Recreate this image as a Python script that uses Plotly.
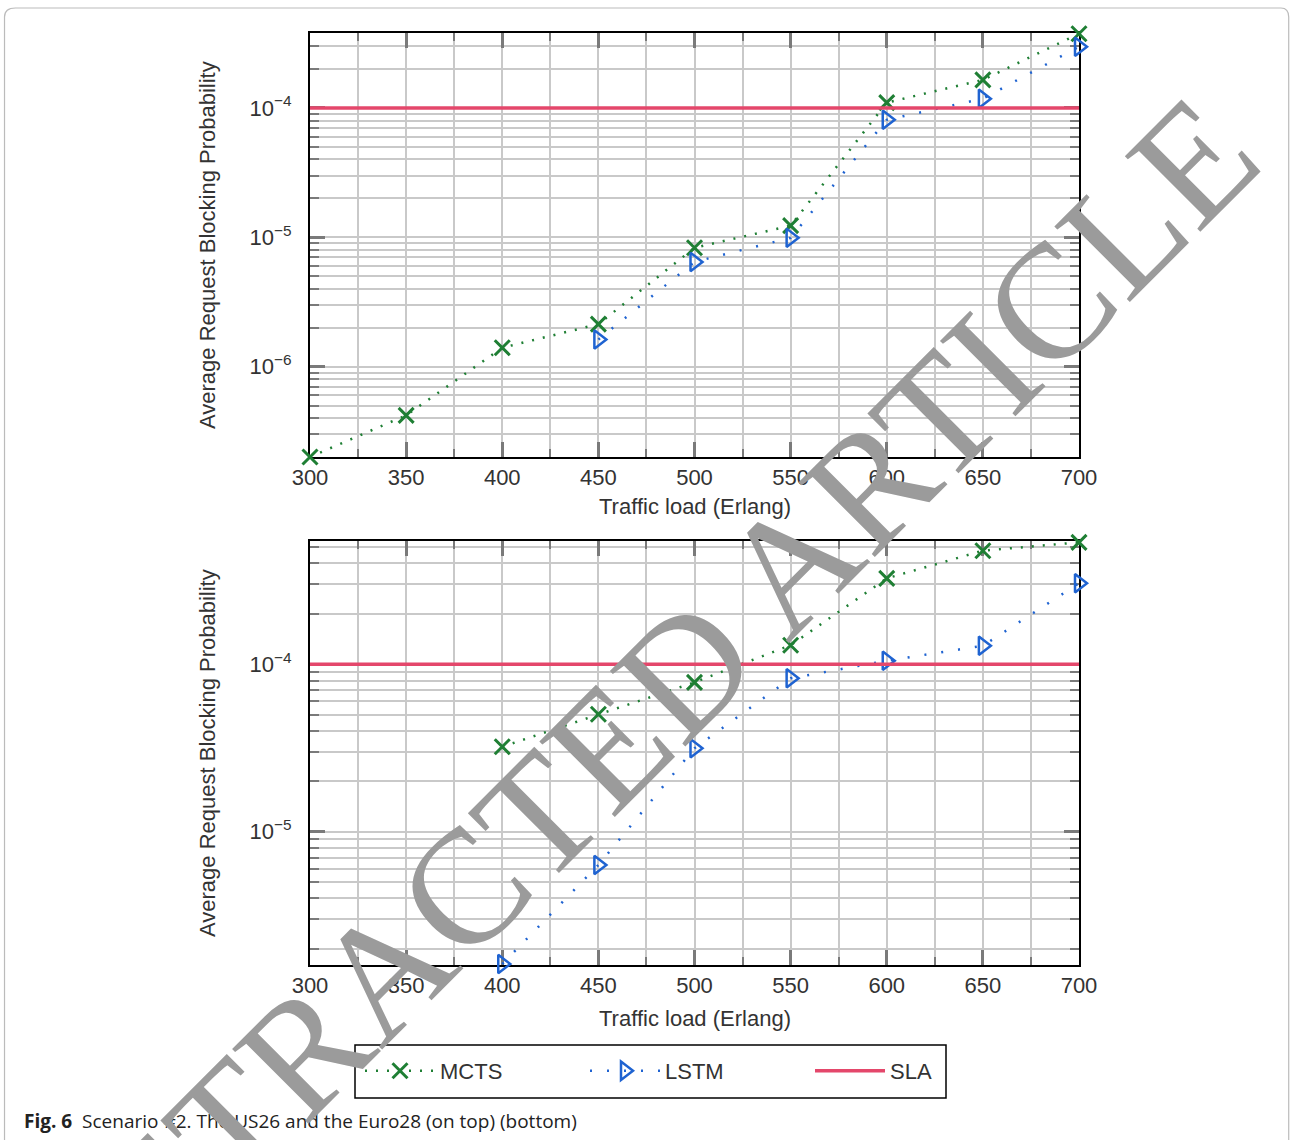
import numpy as np
import plotly.graph_objects as go

# ---- data ----
top_mcts_x = [300, 350, 400, 450, 500, 550, 600, 650, 700]
top_mcts_y = [2.0e-7, 4.2e-7, 1.4e-6, 2.13e-6, 8.3e-6, 1.23e-5, 1.1e-4, 1.65e-4, 3.75e-4]
top_lstm_x = [450, 500, 550, 600, 650, 700]
top_lstm_y = [1.62e-6, 6.45e-6, 9.9e-6, 8.1e-5, 1.18e-4, 2.98e-4]

bot_mcts_x = [400, 450, 500, 550, 600, 650, 700]
bot_mcts_y = [3.22e-5, 5.03e-5, 7.8e-5, 1.3e-4, 3.26e-4, 4.77e-4, 5.35e-4]
bot_lstm_x = [400, 450, 500, 550, 600, 650, 700]
bot_lstm_y = [1.62e-6, 6.33e-6, 3.15e-5, 8.25e-5, 1.05e-4, 1.29e-4, 3.05e-4]

sla_x = [300, 700]
sla_y = [1e-4, 1e-4]

x_ticks = [300, 350, 400, 450, 500, 550, 600, 650, 700]
x_minor = [325, 375, 425, 475, 525, 575, 625, 675]
top_decades = [-6, -5, -4]
bot_decades = [-5, -4]

W, H = 1290, 1140
GREEN = "#1f7f34"
BLUE = "#1f63d1"
RED = "#e4476b"
GRID = "#c9c9c9"
TICKC = "#7a7a7a"
TXT = "#333333"
FONT = "Liberation Sans, Arial, sans-serif"

fig = go.Figure()

x_dom = [310 / W, 1079 / W]
top_dom = [1 - 457 / H, 1 - 33 / H]
bot_dom = [1 - 965 / H, 1 - 541 / H]


def add_panel(xa, ya, mx, my, lx, ly, show):
    fig.add_trace(go.Scatter(
        x=mx, y=my, mode="lines+markers", name="MCTS",
        line=dict(color=GREEN, width=2.5, dash="2px,9px"),
        marker=dict(symbol="x-thin", size=15, color=GREEN,
                    line=dict(width=3, color=GREEN)),
        xaxis=xa, yaxis=ya, showlegend=show, legendrank=1, cliponaxis=False))
    fig.add_trace(go.Scatter(
        x=lx, y=ly, mode="lines+markers", name="LSTM",
        line=dict(color=BLUE, width=2.5, dash="2px,15px"),
        marker=dict(symbol="triangle-right-open", size=16, color=BLUE,
                    line=dict(width=2.5, color=BLUE)),
        xaxis=xa, yaxis=ya, showlegend=show, legendrank=2, cliponaxis=False))
    fig.add_trace(go.Scatter(
        x=sla_x, y=sla_y, mode="lines", name="SLA",
        line=dict(color=RED, width=3.5), xaxis=xa, yaxis=ya,
        showlegend=show, legendrank=3))


add_panel("x", "y", top_mcts_x, top_mcts_y, top_lstm_x, top_lstm_y, True)
add_panel("x2", "y2", bot_mcts_x, bot_mcts_y, bot_lstm_x, bot_lstm_y, False)


def xaxis_cfg(anchor):
    return dict(
        domain=x_dom, anchor=anchor, range=[300, 700],
        tickvals=x_ticks, ticktext=[str(v) for v in x_ticks],
        ticks="inside", ticklen=15, tickwidth=3, tickcolor=TICKC,
        showgrid=True, gridcolor=GRID, gridwidth=1.5,
        showline=True, linecolor="black", linewidth=2, mirror="allticks",
        tickfont=dict(family=FONT, size=22, color=TXT),
        minor=dict(tickvals=x_minor, ticks="inside",
                   ticklen=8, tickwidth=2, tickcolor=TICKC,
                   showgrid=True, gridcolor=GRID, gridwidth=1.5),
        zeroline=False, automargin=False, layer="below traces",
    )


def yaxis_cfg(anchor, dom, lo, hi, decades):
    minors = []
    for d in range(int(np.floor(np.log10(lo))), int(np.ceil(np.log10(hi))) + 1):
        for m in range(2, 10):
            v = m * 10.0 ** d
            if lo <= v <= hi:
                minors.append(v)
    return dict(
        domain=dom, anchor=anchor, type="log",
        range=[np.log10(lo), np.log10(hi)],
        tickvals=[10.0 ** d for d in decades],
        ticktext=["10<sup style='font-size:19px'>\u2212%d</sup>" % (-d) for d in decades],
        ticks="inside", ticklen=15, tickwidth=3, tickcolor=TICKC,
        showgrid=True, gridcolor=GRID, gridwidth=1.5,
        showline=True, linecolor="black", linewidth=2, mirror="allticks",
        tickfont=dict(family=FONT, size=22, color=TXT),
        ticklabelstandoff=12,
        minor=dict(tickvals=minors, ticks="inside", ticklen=9, tickwidth=1.5,
                   tickcolor=TICKC, showgrid=True, gridcolor=GRID, gridwidth=1.5),
        zeroline=False, automargin=False, layer="below traces",
    )


fig.update_layout(
    width=W, height=H,
    margin=dict(l=0, r=0, t=0, b=0),
    paper_bgcolor="white", plot_bgcolor="white",
    font=dict(family=FONT, color=TXT),
    xaxis=xaxis_cfg("y"),
    yaxis=yaxis_cfg("x", top_dom, 2.0e-7, 3.8e-4, top_decades),
    xaxis2=xaxis_cfg("y2"),
    yaxis2=yaxis_cfg("x2", bot_dom, 1.6e-6, 5.45e-4, bot_decades),
    legend=dict(
        orientation="h", x=360 / W, xanchor="left", y=1 - 1071 / H, yanchor="middle",
        borderwidth=0, bgcolor="rgba(0,0,0,0)",
        font=dict(family=FONT, size=22, color=TXT),
        itemwidth=70, entrywidth=140, entrywidthmode="pixels",
        traceorder="normal", itemclick=False,
    ),
    showlegend=True,
)

# legend frame
fig.add_shape(type="rect", xref="paper", yref="paper",
              x0=355 / W, x1=946 / W, y0=1 - 1098 / H, y1=1 - 1045 / H,
              line=dict(color="black", width=1.5), fillcolor="white", layer="below")

# axis titles
ann = []
for ycen_px, xlab_px in [((33 + 457) / 2, 507), ((541 + 965) / 2, 1018)]:
    ann.append(dict(text="Average Request Blocking Probability", x=207 / W, y=1 - ycen_px / H,
                    xref="paper", yref="paper", showarrow=False, textangle=-90,
                    xanchor="center", yanchor="middle",
                    font=dict(family=FONT, size=22, color=TXT)))
    ann.append(dict(text="Traffic load (Erlang)", x=(310 + 1079) / 2 / W, y=1 - xlab_px / H,
                    xref="paper", yref="paper", showarrow=False,
                    xanchor="center", yanchor="middle",
                    font=dict(family=FONT, size=22, color=TXT)))

# caption
ann.append(dict(text="<b>Fig. 6</b>  Scenario #2. The US26 and the Euro28 (on top) (bottom)",
                x=22 / W, y=1 - 1121 / H, xref="paper", yref="paper", xanchor="left", yanchor="middle",
                showarrow=False, font=dict(family="Open Sans, Noto Sans, sans-serif", size=19, color="#222222")))

# watermark
ann.append(dict(text="RETRACTED ARTICLE", x=638 / W, y=1 - 716 / H, xref="paper", yref="paper",
                xanchor="center", yanchor="middle",
                showarrow=False, textangle=-45,
                font=dict(family="Liberation Serif, Times New Roman, serif", size=163, color="#9b9b9b")))
fig.update_layout(annotations=ann)

# outer rounded frame
fig.add_shape(type="path", xref="paper", yref="paper",
              path="M 0.0035,0.0 L 0.0035,0.985 Q 0.0035,0.993 0.012,0.993 L 0.993,0.993 Q 0.999,0.993 0.999,0.985 L 0.999,0.0",
              line=dict(color="#bbbbbb", width=1.2), layer="below")

fig.write_html("out.html", config={"displayModeBar": False},
               post_script="document.body.style.margin='0';document.body.style.padding='0';")
